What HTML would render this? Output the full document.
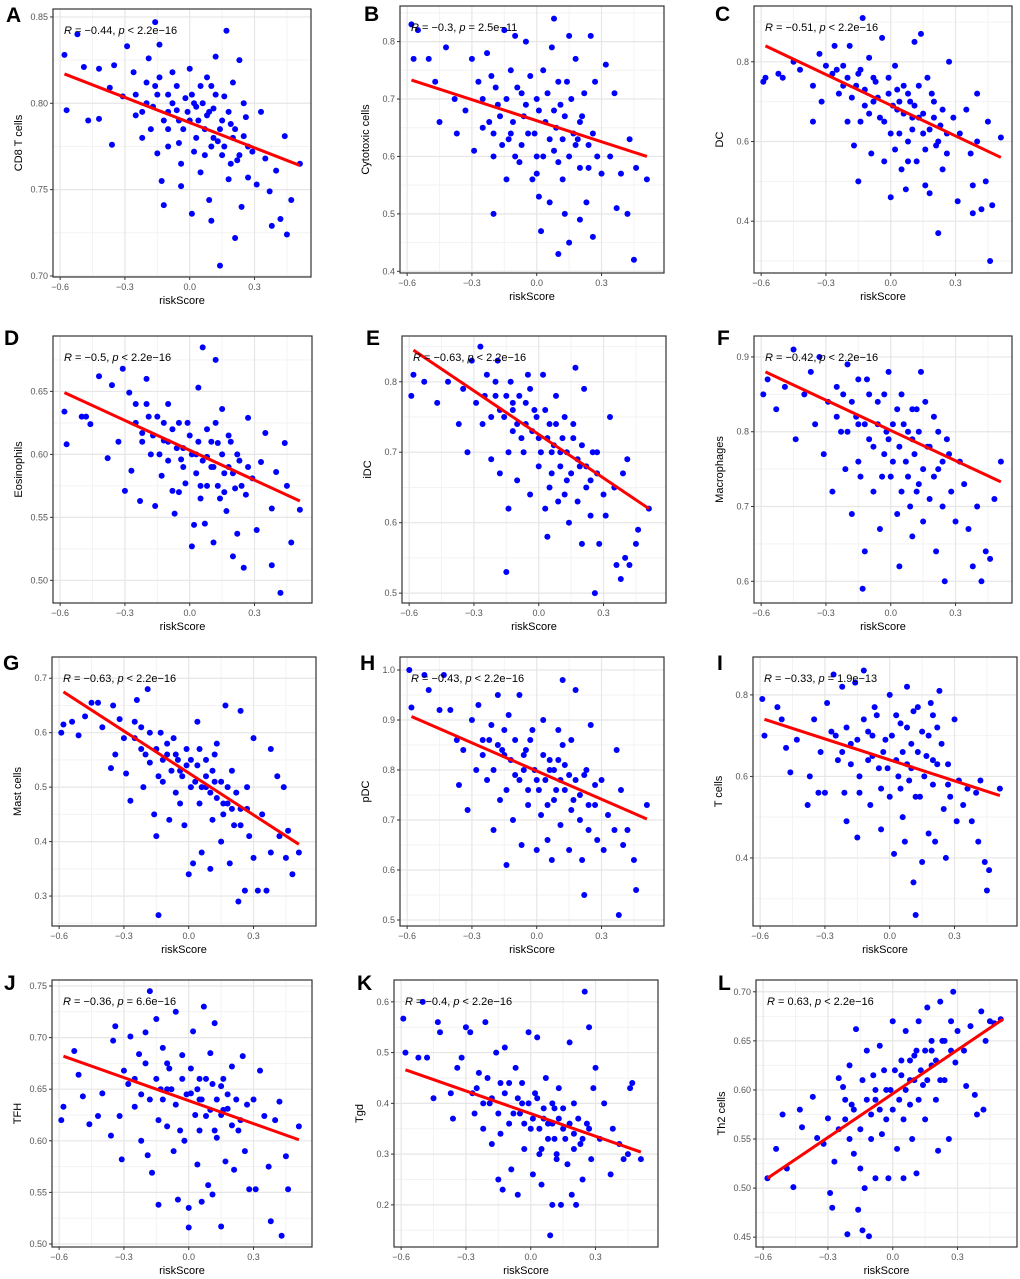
<!DOCTYPE html>
<html><head><meta charset="utf-8"><style>
html,body{margin:0;padding:0;background:#fff;}
svg{display:block;font-family:"Liberation Sans",sans-serif;}
</style></head><body>
<svg id="fig" width="1020" height="1279" viewBox="0 0 1020 1279" xmlns="http://www.w3.org/2000/svg"></svg>
<script>
// ---- data ----
const panelLetters=["A","B","C","D","E","F","G","H","I","J","K","L"];
const yTitles=["CD8 T cells","Cytotoxic cells","DC","Eosinophils","iDC","Macrophages","Mast cells","pDC","T cells","TFH","Tgd","Th2 cells"];
const rVals=["−0.44","−0.3","−0.51","−0.5","−0.63","−0.42","−0.63","−0.43","−0.33","−0.36","−0.4","0.63"];
const pTexts=["< 2.2e−16","= 2.5e−11","< 2.2e−16","< 2.2e−16","< 2.2e−16","< 2.2e−16","< 2.2e−16","< 2.2e−16","= 1.9e−13","= 6.6e−16","< 2.2e−16","< 2.2e−16"];
const xTicks=[-0.6,-0.3,0,0.3];
const xTickLabels=["−0.6","−0.3","0.0","0.3"];
const yDomains=[[0.6994,0.8546],[0.397,0.862],[0.27,0.94],[0.482,0.694],[0.486,0.865],[0.571,0.928],[0.245,0.739],[0.488,1.026],[0.233,0.893],[0.4971,0.7558],[0.117,0.643],[0.44,0.712]];
const yTicks=[[0.70,0.75,0.80,0.85],[0.4,0.5,0.6,0.7,0.8],[0.4,0.6,0.8],[0.50,0.55,0.60,0.65],[0.5,0.6,0.7,0.8],[0.6,0.7,0.8,0.9],[0.3,0.4,0.5,0.6,0.7],[0.5,0.6,0.7,0.8,0.9,1.0],[0.4,0.6,0.8],[0.50,0.55,0.60,0.65,0.70,0.75],[0.2,0.3,0.4,0.5,0.6],[0.45,0.50,0.55,0.60,0.65,0.70]];
const yTickLabels=[["0.70","0.75","0.80","0.85"],["0.4","0.5","0.6","0.7","0.8"],["0.4","0.6","0.8"],["0.50","0.55","0.60","0.65"],["0.5","0.6","0.7","0.8"],["0.6","0.7","0.8","0.9"],["0.3","0.4","0.5","0.6","0.7"],["0.5","0.6","0.7","0.8","0.9","1.0"],["0.4","0.6","0.8"],["0.50","0.55","0.60","0.65","0.70","0.75"],["0.2","0.3","0.4","0.5","0.6"],["0.45","0.50","0.55","0.60","0.65","0.70"]];
const fitX=[-0.58,0.51];
const fitStart=[0.817,0.733,0.84,0.649,0.845,0.88,0.675,0.907,0.74,0.682,0.466,0.51];
const fitEnd=[0.764,0.600,0.56,0.563,0.62,0.733,0.395,0.702,0.553,0.601,0.304,0.672];
const ptsA=[[-0.58,0.828],[-0.57,0.796],[-0.52,0.840],[-0.49,0.821],[-0.47,0.790],[-0.42,0.820],[-0.42,0.791],[-0.37,0.809],[-0.35,0.822],[-0.36,0.776],[-0.31,0.804],[-0.29,0.833],[-0.26,0.818],[-0.25,0.793],[-0.22,0.780],[-0.2,0.812],[-0.19,0.826],[-0.17,0.798],[-0.16,0.847],[-0.15,0.771],[-0.14,0.834],[-0.13,0.755],[-0.12,0.741],[-0.1,0.805],[-0.1,0.785],[-0.08,0.818],[-0.06,0.796],[-0.05,0.777],[-0.04,0.752],[-0.02,0.803],[0.0,0.790],[0.0,0.820],[0.01,0.736],[0.02,0.772],[0.03,0.798],[0.05,0.810],[0.05,0.760],[0.07,0.785],[0.08,0.815],[0.09,0.744],[0.1,0.732],[0.11,0.797],[0.12,0.827],[0.13,0.778],[0.14,0.706],[0.15,0.770],[0.16,0.804],[0.17,0.842],[0.18,0.756],[0.19,0.788],[0.2,0.812],[0.21,0.722],[0.22,0.767],[0.23,0.825],[0.24,0.740],[0.25,0.781],[0.26,0.792],[0.27,0.757],[0.29,0.772],[0.31,0.753],[0.33,0.795],[0.35,0.768],[0.37,0.749],[0.38,0.729],[0.40,0.761],[0.42,0.733],[0.44,0.781],[0.45,0.724],[0.47,0.744],[0.51,0.765],[-0.05,0.79],[0.08,0.793],[0.15,0.79],[-0.15,0.805],[0.02,0.8],[0.2,0.78],[-0.1,0.795],[0.1,0.775]];
const ptsB=[[-0.58,0.83],[-0.57,0.77],[-0.55,0.82],[-0.5,0.77],[-0.47,0.73],[-0.45,0.66],[-0.42,0.79],[-0.38,0.70],[-0.37,0.64],[-0.33,0.68],[-0.3,0.77],[-0.29,0.61],[-0.27,0.73],[-0.25,0.65],[-0.23,0.78],[-0.21,0.74],[-0.2,0.60],[-0.2,0.50],[-0.18,0.69],[-0.16,0.62],[-0.15,0.82],[-0.14,0.56],[-0.12,0.75],[-0.11,0.66],[-0.1,0.81],[-0.08,0.59],[-0.07,0.71],[-0.05,0.80],[-0.04,0.64],[-0.02,0.56],[0.0,0.70],[0.0,0.60],[0.01,0.53],[0.02,0.47],[0.03,0.75],[0.04,0.66],[0.06,0.52],[0.07,0.79],[0.08,0.84],[0.08,0.61],[0.1,0.43],[0.11,0.69],[0.12,0.56],[0.13,0.50],[0.14,0.73],[0.15,0.81],[0.15,0.45],[0.17,0.64],[0.18,0.77],[0.2,0.49],[0.2,0.58],[0.21,0.67],[0.23,0.52],[0.24,0.62],[0.25,0.81],[0.26,0.46],[0.27,0.73],[0.28,0.60],[0.3,0.57],[0.32,0.76],[0.34,0.60],[0.36,0.71],[0.37,0.51],[0.39,0.57],[0.42,0.50],[0.43,0.63],[0.45,0.42],[0.46,0.58],[0.51,0.56],[-0.06,0.67],[0.09,0.65],[-0.13,0.63],[0.19,0.63]];
const ptsC=[[-0.59,0.75],[-0.58,0.76],[-0.52,0.77],[-0.5,0.76],[-0.45,0.80],[-0.42,0.78],[-0.36,0.74],[-0.36,0.65],[-0.33,0.82],[-0.32,0.70],[-0.3,0.79],[-0.27,0.77],[-0.26,0.84],[-0.24,0.72],[-0.22,0.79],[-0.2,0.65],[-0.19,0.84],[-0.17,0.59],[-0.16,0.74],[-0.15,0.50],[-0.14,0.78],[-0.13,0.91],[-0.12,0.69],[-0.1,0.81],[-0.09,0.57],[-0.07,0.75],[-0.05,0.66],[-0.04,0.86],[-0.03,0.55],[-0.01,0.72],[0.0,0.46],[0.0,0.62],[0.02,0.79],[0.03,0.68],[0.05,0.53],[0.06,0.74],[0.07,0.48],[0.08,0.60],[0.09,0.70],[0.11,0.85],[0.12,0.55],[0.13,0.66],[0.14,0.87],[0.15,0.62],[0.16,0.49],[0.17,0.76],[0.18,0.47],[0.2,0.70],[0.21,0.59],[0.22,0.37],[0.23,0.64],[0.24,0.53],[0.26,0.57],[0.27,0.80],[0.29,0.66],[0.31,0.45],[0.32,0.62],[0.35,0.68],[0.37,0.57],[0.38,0.42],[0.38,0.49],[0.4,0.60],[0.4,0.72],[0.42,0.43],[0.44,0.50],[0.45,0.65],[0.46,0.30],[0.47,0.44],[0.51,0.61],[-0.08,0.70],[0.04,0.70],[0.1,0.66]];
const ptsD=[[-0.58,0.634],[-0.57,0.608],[-0.5,0.630],[-0.48,0.630],[-0.46,0.624],[-0.42,0.662],[-0.38,0.597],[-0.36,0.655],[-0.33,0.610],[-0.31,0.668],[-0.3,0.571],[-0.28,0.649],[-0.27,0.587],[-0.25,0.640],[-0.23,0.563],[-0.22,0.617],[-0.2,0.660],[-0.18,0.600],[-0.16,0.559],[-0.15,0.630],[-0.13,0.583],[-0.12,0.611],[-0.1,0.640],[-0.08,0.571],[-0.07,0.553],[-0.05,0.625],[-0.04,0.596],[-0.02,0.577],[0.0,0.615],[0.01,0.527],[0.02,0.544],[0.03,0.600],[0.04,0.653],[0.05,0.575],[0.06,0.685],[0.07,0.545],[0.08,0.620],[0.1,0.590],[0.11,0.530],[0.12,0.675],[0.13,0.609],[0.14,0.565],[0.15,0.636],[0.16,0.585],[0.17,0.555],[0.19,0.610],[0.2,0.519],[0.21,0.573],[0.22,0.537],[0.23,0.595],[0.25,0.510],[0.26,0.568],[0.27,0.629],[0.29,0.581],[0.31,0.540],[0.33,0.594],[0.35,0.617],[0.38,0.557],[0.38,0.512],[0.4,0.586],[0.42,0.490],[0.44,0.609],[0.45,0.575],[0.47,0.530],[0.51,0.556],[-0.1,0.61],[0.08,0.598],[-0.03,0.605],[0.18,0.59]];
const ptsE=[[-0.59,0.78],[-0.58,0.81],[-0.53,0.80],[-0.47,0.77],[-0.42,0.80],[-0.37,0.74],[-0.35,0.79],[-0.33,0.70],[-0.31,0.83],[-0.29,0.77],[-0.27,0.85],[-0.26,0.74],[-0.24,0.81],[-0.22,0.69],[-0.2,0.78],[-0.19,0.83],[-0.18,0.67],[-0.16,0.75],[-0.15,0.53],[-0.14,0.62],[-0.13,0.80],[-0.12,0.73],[-0.1,0.66],[-0.09,0.78],[-0.07,0.70],[-0.05,0.81],[-0.04,0.64],[-0.02,0.76],[0.0,0.72],[0.0,0.68],[0.02,0.81],[0.03,0.62],[0.04,0.58],[0.05,0.74],[0.06,0.67],[0.08,0.78],[0.09,0.63],[0.1,0.70],[0.12,0.75],[0.13,0.66],[0.14,0.60],[0.16,0.72],[0.17,0.82],[0.18,0.63],[0.19,0.68],[0.2,0.57],[0.21,0.79],[0.22,0.65],[0.24,0.61],[0.25,0.70],[0.26,0.50],[0.27,0.67],[0.28,0.57],[0.3,0.64],[0.31,0.61],[0.33,0.75],[0.35,0.65],[0.36,0.54],[0.38,0.52],[0.39,0.67],[0.4,0.55],[0.41,0.69],[0.42,0.54],[0.45,0.57],[0.46,0.59],[0.51,0.62],[-0.06,0.74],[0.07,0.71],[-0.12,0.76]];
const ptsF=[[-0.59,0.85],[-0.57,0.87],[-0.53,0.83],[-0.49,0.86],[-0.45,0.91],[-0.44,0.79],[-0.4,0.85],[-0.37,0.88],[-0.35,0.81],[-0.33,0.90],[-0.31,0.77],[-0.29,0.84],[-0.27,0.72],[-0.25,0.86],[-0.23,0.80],[-0.21,0.75],[-0.2,0.89],[-0.18,0.69],[-0.16,0.82],[-0.15,0.76],[-0.13,0.59],[-0.12,0.64],[-0.11,0.87],[-0.1,0.79],[-0.08,0.72],[-0.06,0.84],[-0.05,0.67],[-0.03,0.77],[-0.01,0.88],[0.0,0.74],[0.01,0.81],[0.03,0.69],[0.04,0.62],[0.05,0.85],[0.07,0.76],[0.08,0.80],[0.09,0.70],[0.1,0.66],[0.12,0.83],[0.13,0.73],[0.14,0.88],[0.15,0.68],[0.17,0.78],[0.18,0.71],[0.2,0.82],[0.21,0.64],[0.22,0.75],[0.24,0.70],[0.25,0.60],[0.26,0.79],[0.28,0.72],[0.3,0.68],[0.32,0.76],[0.34,0.73],[0.36,0.67],[0.38,0.62],[0.4,0.70],[0.42,0.60],[0.44,0.64],[0.46,0.63],[0.48,0.71],[0.51,0.76],[-0.02,0.80],[0.1,0.79],[-0.15,0.81]];
const ptsG=[[-0.59,0.60],[-0.58,0.615],[-0.54,0.62],[-0.51,0.595],[-0.48,0.63],[-0.45,0.655],[-0.42,0.655],[-0.4,0.61],[-0.36,0.535],[-0.35,0.65],[-0.34,0.56],[-0.32,0.625],[-0.3,0.59],[-0.29,0.525],[-0.27,0.475],[-0.25,0.62],[-0.24,0.66],[-0.22,0.57],[-0.21,0.50],[-0.19,0.68],[-0.18,0.545],[-0.16,0.45],[-0.15,0.41],[-0.14,0.265],[-0.13,0.60],[-0.12,0.51],[-0.1,0.56],[-0.09,0.44],[-0.07,0.59],[-0.06,0.49],[-0.04,0.53],[-0.02,0.43],[-0.01,0.57],[0.0,0.34],[0.01,0.50],[0.02,0.36],[0.04,0.62],[0.05,0.47],[0.06,0.38],[0.08,0.55],[0.1,0.35],[0.11,0.44],[0.12,0.51],[0.13,0.58],[0.15,0.40],[0.16,0.47],[0.17,0.65],[0.19,0.36],[0.2,0.53],[0.21,0.43],[0.23,0.29],[0.24,0.64],[0.24,0.46],[0.26,0.31],[0.27,0.50],[0.28,0.41],[0.3,0.59],[0.3,0.37],[0.32,0.31],[0.34,0.45],[0.36,0.31],[0.38,0.57],[0.38,0.38],[0.41,0.52],[0.42,0.41],[0.44,0.50],[0.45,0.37],[0.46,0.42],[0.48,0.34],[0.51,0.38],[-0.05,0.55],[0.08,0.5],[0.18,0.47]];
const ptsH=[[-0.59,1.0],[-0.58,0.925],[-0.52,0.99],[-0.5,0.96],[-0.45,0.92],[-0.43,0.99],[-0.4,0.92],[-0.37,0.86],[-0.36,0.77],[-0.34,0.84],[-0.32,0.72],[-0.3,0.90],[-0.28,0.80],[-0.27,0.93],[-0.25,0.86],[-0.23,0.78],[-0.21,0.89],[-0.2,0.68],[-0.18,0.95],[-0.17,0.74],[-0.15,0.83],[-0.14,0.61],[-0.13,0.91],[-0.11,0.70],[-0.1,0.79],[-0.08,0.95],[-0.07,0.65],[-0.05,0.84],[-0.04,0.73],[-0.02,0.88],[0.0,0.64],[0.0,0.78],[0.02,0.71],[0.03,0.90],[0.05,0.66],[0.06,0.82],[0.07,0.62],[0.09,0.76],[0.1,0.88],[0.11,0.69],[0.12,0.98],[0.13,0.81],[0.15,0.64],[0.16,0.86],[0.17,0.74],[0.18,0.96],[0.2,0.70],[0.21,0.62],[0.22,0.55],[0.23,0.80],[0.24,0.68],[0.25,0.89],[0.27,0.73],[0.28,0.66],[0.3,0.78],[0.31,0.64],[0.33,0.71],[0.36,0.68],[0.37,0.84],[0.38,0.51],[0.39,0.76],[0.4,0.65],[0.42,0.68],[0.45,0.62],[0.46,0.56],[0.51,0.73],[-0.06,0.8],[0.08,0.8],[-0.16,0.84]];
const ptsI=[[-0.59,0.79],[-0.58,0.70],[-0.52,0.77],[-0.5,0.74],[-0.48,0.67],[-0.46,0.61],[-0.43,0.69],[-0.38,0.53],[-0.37,0.60],[-0.35,0.74],[-0.33,0.56],[-0.32,0.66],[-0.3,0.56],[-0.29,0.78],[-0.27,0.71],[-0.26,0.85],[-0.24,0.64],[-0.22,0.82],[-0.21,0.56],[-0.2,0.49],[-0.18,0.68],[-0.16,0.83],[-0.15,0.45],[-0.14,0.60],[-0.12,0.86],[-0.1,0.71],[-0.09,0.53],[-0.07,0.77],[-0.05,0.62],[-0.04,0.47],[-0.02,0.69],[0.0,0.55],[0.0,0.80],[0.02,0.41],[0.03,0.64],[0.05,0.73],[0.06,0.50],[0.07,0.44],[0.08,0.82],[0.09,0.59],[0.1,0.68],[0.11,0.34],[0.12,0.26],[0.13,0.77],[0.14,0.55],[0.15,0.39],[0.17,0.65],[0.18,0.46],[0.19,0.78],[0.2,0.58],[0.21,0.44],[0.22,0.72],[0.23,0.81],[0.25,0.52],[0.26,0.40],[0.27,0.63],[0.28,0.55],[0.3,0.74],[0.31,0.49],[0.32,0.59],[0.34,0.53],[0.36,0.57],[0.38,0.49],[0.4,0.56],[0.41,0.44],[0.42,0.59],[0.44,0.39],[0.45,0.32],[0.46,0.37],[0.51,0.57],[-0.08,0.65],[0.08,0.63],[0.2,0.64]];
const ptsJ=[[-0.59,0.620],[-0.58,0.633],[-0.53,0.687],[-0.51,0.664],[-0.49,0.643],[-0.46,0.616],[-0.42,0.624],[-0.4,0.646],[-0.36,0.605],[-0.35,0.697],[-0.34,0.711],[-0.32,0.624],[-0.31,0.582],[-0.3,0.668],[-0.28,0.655],[-0.27,0.701],[-0.25,0.633],[-0.23,0.684],[-0.22,0.600],[-0.2,0.705],[-0.19,0.586],[-0.18,0.745],[-0.17,0.569],[-0.15,0.718],[-0.14,0.538],[-0.13,0.650],[-0.12,0.690],[-0.1,0.614],[-0.09,0.670],[-0.07,0.590],[-0.06,0.725],[-0.05,0.543],[-0.03,0.683],[-0.02,0.600],[0.0,0.516],[0.0,0.535],[0.01,0.646],[0.02,0.706],[0.04,0.577],[0.05,0.660],[0.06,0.541],[0.07,0.730],[0.08,0.624],[0.09,0.557],[0.1,0.685],[0.11,0.548],[0.12,0.714],[0.13,0.603],[0.15,0.517],[0.15,0.653],[0.17,0.580],[0.18,0.631],[0.2,0.672],[0.21,0.572],[0.23,0.610],[0.25,0.682],[0.26,0.590],[0.28,0.553],[0.3,0.640],[0.31,0.553],[0.33,0.668],[0.35,0.624],[0.37,0.575],[0.38,0.522],[0.4,0.620],[0.42,0.638],[0.43,0.508],[0.45,0.585],[0.46,0.553],[0.51,0.614],[-0.1,0.65],[0.05,0.64],[0.16,0.63]];
const ptsK=[[-0.59,0.567],[-0.58,0.50],[-0.52,0.49],[-0.5,0.60],[-0.48,0.49],[-0.45,0.41],[-0.43,0.56],[-0.42,0.54],[-0.37,0.42],[-0.36,0.37],[-0.34,0.47],[-0.32,0.49],[-0.3,0.55],[-0.28,0.54],[-0.27,0.42],[-0.26,0.38],[-0.24,0.46],[-0.22,0.35],[-0.21,0.56],[-0.19,0.40],[-0.18,0.32],[-0.16,0.50],[-0.15,0.25],[-0.14,0.44],[-0.13,0.23],[-0.12,0.51],[-0.1,0.36],[-0.09,0.27],[-0.07,0.47],[-0.06,0.22],[-0.04,0.40],[-0.03,0.31],[-0.01,0.54],[0.0,0.35],[0.01,0.26],[0.02,0.42],[0.03,0.53],[0.04,0.30],[0.05,0.24],[0.06,0.37],[0.07,0.45],[0.08,0.33],[0.09,0.14],[0.1,0.20],[0.11,0.39],[0.12,0.29],[0.13,0.43],[0.14,0.20],[0.15,0.35],[0.17,0.28],[0.18,0.52],[0.19,0.22],[0.2,0.40],[0.21,0.20],[0.23,0.32],[0.24,0.25],[0.25,0.62],[0.26,0.36],[0.27,0.55],[0.28,0.29],[0.29,0.43],[0.3,0.47],[0.32,0.33],[0.34,0.40],[0.37,0.26],[0.38,0.35],[0.41,0.32],[0.43,0.29],[0.45,0.30],[0.46,0.43],[0.47,0.44],[0.51,0.29],[-0.05,0.38],[0.1,0.36],[0.2,0.34]];
const ptsL=[[-0.58,0.510],[-0.54,0.540],[-0.51,0.575],[-0.49,0.520],[-0.46,0.501],[-0.43,0.580],[-0.42,0.562],[-0.37,0.593],[-0.35,0.551],[-0.32,0.545],[-0.3,0.571],[-0.29,0.495],[-0.28,0.480],[-0.27,0.527],[-0.25,0.612],[-0.23,0.603],[-0.22,0.570],[-0.21,0.453],[-0.2,0.625],[-0.19,0.585],[-0.18,0.535],[-0.17,0.662],[-0.16,0.478],[-0.15,0.520],[-0.14,0.457],[-0.13,0.500],[-0.12,0.640],[-0.11,0.451],[-0.1,0.575],[-0.09,0.615],[-0.08,0.510],[-0.06,0.645],[-0.05,0.555],[-0.03,0.600],[-0.02,0.510],[0.0,0.670],[0.0,0.580],[0.02,0.540],[0.04,0.615],[0.05,0.510],[0.06,0.660],[0.08,0.585],[0.09,0.550],[0.1,0.635],[0.11,0.515],[0.12,0.670],[0.14,0.605],[0.15,0.570],[0.16,0.684],[0.18,0.640],[0.2,0.590],[0.21,0.538],[0.22,0.690],[0.23,0.650],[0.24,0.610],[0.26,0.550],[0.27,0.670],[0.28,0.700],[0.29,0.628],[0.3,0.660],[0.33,0.640],[0.34,0.604],[0.36,0.665],[0.38,0.595],[0.39,0.575],[0.41,0.680],[0.42,0.580],[0.43,0.650],[0.45,0.670],[0.47,0.668],[0.5,0.672],[-0.08,0.59],[0.08,0.61],[0.18,0.625]];
const coreA=[[-0.25,0.805],[-0.22,0.795],[-0.2,0.80],[-0.18,0.785],[-0.16,0.81],[-0.12,0.79],[-0.1,0.775],[-0.08,0.80],[-0.06,0.81],[-0.03,0.785],[-0.01,0.795],[0.01,0.805],[0.03,0.78],[0.04,0.79],[0.06,0.80],[0.07,0.77],[0.09,0.795],[0.11,0.78],[0.12,0.805],[0.14,0.785],[0.16,0.775],[0.18,0.795],[0.21,0.785],[0.23,0.77],[0.25,0.80],[0.27,0.775],[-0.14,0.815],[0.1,0.81],[-0.04,0.765],[0.19,0.765]];
const coreB=[[-0.25,0.70],[-0.22,0.66],[-0.19,0.72],[-0.17,0.67],[-0.14,0.70],[-0.12,0.64],[-0.09,0.72],[-0.07,0.62],[-0.05,0.69],[-0.03,0.74],[-0.01,0.64],[0.01,0.68],[0.03,0.60],[0.05,0.71],[0.06,0.63],[0.08,0.68],[0.1,0.73],[0.12,0.63],[0.13,0.67],[0.15,0.60],[0.16,0.70],[0.18,0.62],[0.2,0.66],[0.22,0.71],[0.24,0.58],[0.26,0.64],[-0.2,0.64],[0.0,0.57],[0.1,0.59],[-0.1,0.60]];
const coreC=[[-0.25,0.78],[-0.22,0.74],[-0.2,0.76],[-0.18,0.71],[-0.15,0.77],[-0.12,0.73],[-0.1,0.67],[-0.08,0.76],[-0.06,0.71],[-0.03,0.65],[-0.01,0.76],[0.01,0.69],[0.03,0.73],[0.04,0.62],[0.06,0.67],[0.08,0.72],[0.1,0.63],[0.11,0.69],[0.13,0.74],[0.15,0.67],[0.16,0.58],[0.18,0.63],[0.2,0.66],[0.22,0.60],[0.24,0.68],[0.26,0.62],[-0.14,0.65],[0.02,0.58],[0.08,0.55],[0.19,0.72]];
const coreD=[[-0.25,0.625],[-0.22,0.61],[-0.19,0.63],[-0.17,0.615],[-0.14,0.60],[-0.12,0.625],[-0.1,0.595],[-0.08,0.62],[-0.06,0.605],[-0.03,0.59],[-0.01,0.625],[0.01,0.60],[0.03,0.585],[0.04,0.61],[0.06,0.595],[0.08,0.575],[0.1,0.61],[0.11,0.59],[0.13,0.575],[0.15,0.60],[0.16,0.57],[0.18,0.615],[0.2,0.585],[0.22,0.6],[0.24,0.575],[0.27,0.59],[-0.2,0.64],[0.05,0.565],[0.12,0.625],[-0.05,0.57]];
const coreE=[[-0.25,0.78],[-0.22,0.75],[-0.2,0.80],[-0.18,0.76],[-0.15,0.78],[-0.12,0.77],[-0.1,0.74],[-0.08,0.72],[-0.06,0.77],[-0.03,0.73],[-0.01,0.75],[0.01,0.70],[0.03,0.76],[0.04,0.72],[0.06,0.70],[0.08,0.74],[0.1,0.68],[0.11,0.72],[0.13,0.70],[0.15,0.67],[0.16,0.74],[0.18,0.69],[0.2,0.71],[0.22,0.68],[0.24,0.66],[0.27,0.70],[-0.14,0.70],[0.05,0.65],[0.12,0.64],[-0.04,0.79]];
const coreF=[[-0.25,0.82],[-0.22,0.85],[-0.2,0.80],[-0.18,0.84],[-0.15,0.87],[-0.12,0.81],[-0.1,0.85],[-0.08,0.78],[-0.06,0.81],[-0.03,0.85],[-0.01,0.79],[0.01,0.76],[0.03,0.83],[0.04,0.78],[0.06,0.81],[0.08,0.74],[0.1,0.83],[0.11,0.77],[0.13,0.80],[0.15,0.75],[0.16,0.84],[0.18,0.78],[0.2,0.74],[0.22,0.80],[0.24,0.76],[0.27,0.77],[-0.14,0.74],[0.05,0.72],[0.12,0.72],[-0.04,0.74]];
const coreG=[[-0.25,0.59],[-0.22,0.61],[-0.2,0.56],[-0.18,0.60],[-0.15,0.57],[-0.12,0.55],[-0.1,0.58],[-0.08,0.53],[-0.06,0.56],[-0.03,0.52],[-0.01,0.54],[0.01,0.55],[0.03,0.51],[0.04,0.54],[0.06,0.50],[0.08,0.52],[0.1,0.49],[0.11,0.53],[0.13,0.48],[0.15,0.51],[0.16,0.45],[0.18,0.50],[0.2,0.46],[0.22,0.49],[0.24,0.43],[0.27,0.46],[-0.14,0.52],[0.05,0.57],[0.12,0.56],[-0.04,0.47]];
const coreH=[[-0.25,0.83],[-0.22,0.86],[-0.2,0.80],[-0.18,0.85],[-0.15,0.88],[-0.12,0.82],[-0.1,0.86],[-0.08,0.78],[-0.06,0.83],[-0.03,0.86],[-0.01,0.80],[0.01,0.76],[0.03,0.83],[0.04,0.78],[0.06,0.80],[0.08,0.74],[0.1,0.82],[0.11,0.78],[0.13,0.76],[0.15,0.79],[0.16,0.72],[0.18,0.78],[0.2,0.75],[0.22,0.79],[0.24,0.73],[0.27,0.77],[-0.14,0.76],[0.05,0.73],[0.12,0.85],[-0.04,0.76]];
const coreI=[[-0.25,0.70],[-0.22,0.66],[-0.2,0.72],[-0.18,0.63],[-0.15,0.69],[-0.12,0.74],[-0.1,0.64],[-0.08,0.70],[-0.06,0.75],[-0.03,0.66],[-0.01,0.62],[0.01,0.70],[0.03,0.75],[0.04,0.60],[0.06,0.66],[0.08,0.72],[0.1,0.62],[0.11,0.76],[0.13,0.66],[0.15,0.71],[0.16,0.60],[0.18,0.70],[0.2,0.75],[0.22,0.63],[0.24,0.68],[0.27,0.58],[-0.14,0.56],[0.05,0.57],[0.12,0.55],[-0.04,0.57]];
const coreJ=[[-0.25,0.66],[-0.22,0.645],[-0.2,0.675],[-0.18,0.64],[-0.15,0.66],[-0.12,0.64],[-0.1,0.675],[-0.08,0.65],[-0.06,0.635],[-0.03,0.66],[-0.01,0.645],[0.01,0.67],[0.03,0.625],[0.04,0.65],[0.06,0.64],[0.08,0.66],[0.1,0.63],[0.11,0.655],[0.13,0.64],[0.15,0.625],[0.16,0.66],[0.18,0.645],[0.2,0.615],[0.22,0.64],[0.24,0.62],[0.27,0.635],[-0.14,0.62],[0.05,0.61],[0.12,0.61],[-0.04,0.61]];
const coreK=[[-0.25,0.43],[-0.22,0.40],[-0.2,0.45],[-0.18,0.41],[-0.15,0.38],[-0.12,0.42],[-0.1,0.44],[-0.08,0.38],[-0.06,0.41],[-0.03,0.36],[-0.01,0.40],[0.01,0.37],[0.03,0.41],[0.04,0.35],[0.06,0.39],[0.08,0.36],[0.1,0.40],[0.11,0.33],[0.13,0.37],[0.15,0.39],[0.16,0.33],[0.18,0.36],[0.2,0.31],[0.22,0.37],[0.24,0.33],[0.27,0.35],[-0.14,0.34],[0.05,0.31],[0.12,0.30],[-0.04,0.44]];
const coreL=[[-0.25,0.56],[-0.22,0.59],[-0.2,0.55],[-0.18,0.58],[-0.15,0.56],[-0.12,0.59],[-0.1,0.55],[-0.08,0.60],[-0.06,0.58],[-0.03,0.57],[-0.01,0.60],[0.01,0.62],[0.03,0.59],[0.04,0.63],[0.06,0.60],[0.08,0.63],[0.1,0.61],[0.11,0.64],[0.13,0.62],[0.15,0.64],[0.16,0.61],[0.18,0.65],[0.2,0.63],[0.22,0.61],[0.24,0.65],[0.27,0.64],[-0.14,0.61],[0.05,0.57],[0.12,0.59],[-0.04,0.62]];
const allPts=[ptsA.concat(coreA),ptsB.concat(coreB),ptsC.concat(coreC),ptsD.concat(coreD),ptsE.concat(coreE),ptsF.concat(coreF),ptsG.concat(coreG),ptsH.concat(coreH),ptsI.concat(coreI),ptsJ.concat(coreJ),ptsK.concat(coreK),ptsL.concat(coreL)];

// ---- layout (pixels) ----
const boxes=[[53,9,258,268],[400,6,264,267],[754,6,258,267],[53,336,259,267],[402,336,264,267],[754,336,258,267],[52,657,264,269],[400,657,264,269],[753,657,264,269],[52,980,260,267],[394,980,264,267],[756,980,261,267]];
const letterPos=[[6,22],[364,21],[715,21],[4,345],[366,345],[717,345],[3,670],[360,670],[717,670],[4,990],[357,990],[718,990]];
const NS="http://www.w3.org/2000/svg";
const svg=document.getElementById('fig');
function mk(tag,attrs,parent){const e=document.createElementNS(NS,tag);for(const k in attrs)e.setAttribute(k,attrs[k]);(parent||svg).appendChild(e);return e;}

for(let i=0;i<12;i++){
  const [bx,by,bw,bh]=boxes[i];
  const xmin=-0.633, xmax=xmin+bw/216;
  const [ymin,ymax]=yDomains[i];
  const sx=v=>bx+(v-xmin)/(xmax-xmin)*bw;
  const sy=v=>by+bh-(v-ymin)/(ymax-ymin)*bh;
  const g=mk('g',{});
  
  
  mk('rect',{x:bx,y:by,width:bw,height:bh,fill:'#fff'},g);
  const yt=yTicks[i];const step=yt[1]-yt[0];
  for(let v=yt[0]-step/2;v<ymax;v+=step){if(v>ymin)mk('line',{x1:bx,x2:bx+bw,y1:sy(v),y2:sy(v),stroke:'#f3f3f3','stroke-width':1},g);}
  for(let v=-0.75;v<xmax;v+=0.3){if(v>xmin)mk('line',{x1:sx(v),x2:sx(v),y1:by,y2:by+bh,stroke:'#f3f3f3','stroke-width':1},g);}
  yt.forEach((v,j)=>{
    const y=sy(v);
    const gl=mk('line',{x1:bx,x2:bx+bw,y1:y,y2:y,stroke:'#e6e6e6','stroke-width':1.2},g);
    
    
    mk('line',{x1:bx-3,x2:bx,y1:y,y2:y,stroke:'#333','stroke-width':1},g);
    const t=mk('text',{x:bx-5,y:y+3,'font-size':9,fill:'#555','text-anchor':'end'},g);
    t.textContent=yTickLabels[i][j];
    
    
  });
  xTicks.forEach((v,j)=>{
    const x=sx(v);
    mk('line',{x1:x,x2:x,y1:by,y2:by+bh,stroke:'#e6e6e6','stroke-width':1.2},g);
    mk('line',{x1:x,x2:x,y1:by+bh,y2:by+bh+3,stroke:'#333','stroke-width':1},g);
    const t=mk('text',{x:x,y:by+bh+13,'font-size':9,fill:'#555','text-anchor':'middle'},g);
    t.textContent=xTickLabels[j];
    
    
  });
  allPts[i].forEach(p=>{
    const c=mk('circle',{cx:sx(p[0]),cy:sy(p[1]),r:3,fill:'#0000ff'},g);
    
    
  });
  const ln=mk('line',{x1:sx(fitX[0]),y1:sy(fitStart[i]),x2:sx(fitX[1]),y2:sy(fitEnd[i]),stroke:'#ff0000','stroke-width':3},g);
  
  
  mk('rect',{x:bx,y:by,width:bw,height:bh,fill:'none',stroke:'#333','stroke-width':1.2},g);
  const an=mk('text',{x:bx+11,y:by+25,'font-size':11,fill:'#000'},g);
  
  
  const r1=mk('tspan',{'font-style':'italic'},an);r1.textContent='R';
  const r2=mk('tspan',{},an);r2.textContent=' = '+rVals[i]+', ';
  const r3=mk('tspan',{'font-style':'italic'},an);r3.textContent='p';
  const r4=mk('tspan',{},an);r4.textContent=' '+pTexts[i];
  const xt=mk('text',{x:bx+bw/2,y:by+bh+27,'font-size':11,fill:'#000','text-anchor':'middle'},g);
  xt.textContent='riskScore';
  
  
  const ty=mk('text',{x:0,y:0,'font-size':11,fill:'#000','text-anchor':'middle',transform:`translate(${bx-31},${by+bh/2}) rotate(-90)`},g);
  ty.textContent=yTitles[i];
  
  
  const L=mk('text',{x:letterPos[i][0],y:letterPos[i][1],'font-size':21,'font-weight':'bold',fill:'#000'},g);
  L.textContent=panelLetters[i];
  
  
}
</script>
</body></html>
